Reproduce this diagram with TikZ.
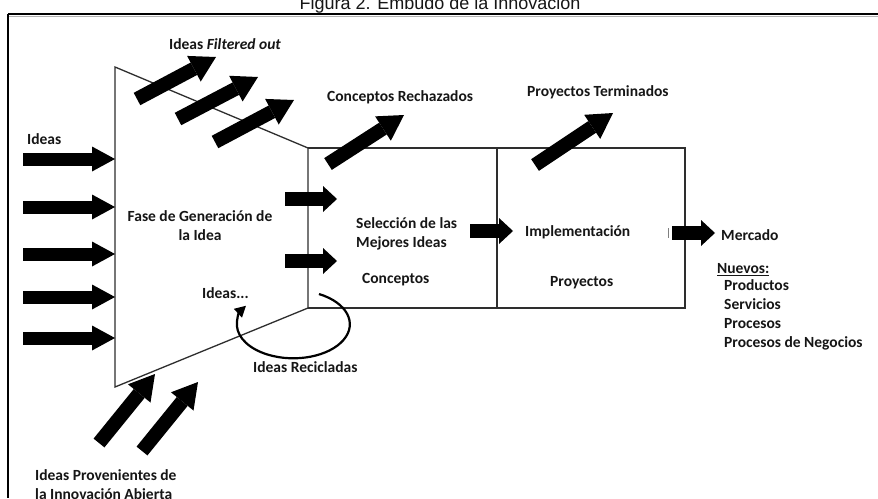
\documentclass[tikz,border=0pt]{standalone}
\usepackage{fontspec}
\setmainfont{Carlito}
\newfontfamily\titlefont{Liberation Sans}
\usetikzlibrary{arrows.meta}
\definecolor{ink}{HTML}{161616}
\definecolor{rulegray}{HTML}{2E2E2E}
\begin{document}
\begin{tikzpicture}[x=1pt,y=-1pt,
  lbl/.style={font=\bfseries\fontsize{15.5}{19}\selectfont, text=ink, inner sep=0pt, anchor=west},
  edge/.style={draw=rulegray, line width=1.3pt},
  blockarrow/.style n args={3}{draw=black, line width=#1,
    -{Triangle[width=#2, length=#3, line width=0pt]}},
  inarrow/.style={blockarrow={13pt}{25pt}{23pt}},
  stubarrow/.style={blockarrow={14pt}{26pt}{14pt}},
  slantarrow/.style={blockarrow={14pt}{29pt}{25pt}},
  looparrow/.style={draw=black, line width=2.2pt, -{Triangle[width=12pt, length=11pt, line width=0pt]}}]

\useasboundingbox (0,0) rectangle (878,498);
\clip (0,0) rectangle (878,498);
\fill[white] (0,0) rectangle (878,498);

% caption above the frame
\node[font=\titlefont\fontsize{18}{20}\selectfont, text=ink, anchor=base, inner sep=0pt]
  (title) at (440,9) {Figura 2. Embudo de la Innovación};

% outer frame (top and left rules)
\coordinate (frTL) at (8,14);
\coordinate (frTR) at (878,14);
\coordinate (frBL) at (8,498);
\draw[draw=gray!60, line width=1pt] (8,16.5) -- (878,16.5);
\draw[draw=black, line width=2.4pt] (frTL) -- (frTR);
\draw[draw=black, line width=2pt] (frTL) -- (frBL);

% funnel and stage boxes
\coordinate (fTL) at (115,67);
\coordinate (fTR) at (308,148);
\coordinate (fBR) at (308,308);
\coordinate (fBL) at (115,387);
\coordinate (bTR) at (685,148);
\coordinate (bBR) at (685,308);
\coordinate (dT) at (497,148);
\coordinate (dB) at (497,308);
\draw[edge] (fTL) -- (fTR) -- (fBR) -- (fBL) -- cycle;
\draw[edge] (fTR) -- (bTR) -- (bBR) -- (fBR);
\draw[edge] (dT) -- (dB);

% incoming ideas
\foreach \yy [count=\i] in {159,207,254,297,338} {
  \coordinate (inT\i) at (23,\yy);
  \coordinate (inH\i) at (115,\yy);
  \draw[inarrow] (inT\i) -- (inH\i);
}

% ideas filtered out of the funnel
\coordinate (foT1) at (137,99);  \coordinate (foH1) at (216,57);
\coordinate (foT2) at (178,119); \coordinate (foH2) at (258,77);
\coordinate (foT3) at (215,142); \coordinate (foH3) at (294,100);
\draw[slantarrow] (foT1) -- (foH1);
\draw[slantarrow] (foT2) -- (foH2);
\draw[slantarrow] (foT3) -- (foH3);

% rejected concepts and finished projects
\coordinate (crT) at (328,164); \coordinate (crH) at (404,115);
\coordinate (ptT) at (535,165); \coordinate (ptH) at (613,113);
\draw[slantarrow] (crT) -- (crH);
\draw[slantarrow] (ptT) -- (ptH);

% open innovation inputs
\coordinate (oiT1) at (99,443);  \coordinate (oiH1) at (155,374);
\coordinate (oiT2) at (142,451); \coordinate (oiH2) at (198,382);
\draw[slantarrow] (oiT1) -- (oiH1);
\draw[slantarrow] (oiT2) -- (oiH2);

% flow between stages
\coordinate (cT1) at (285,199); \coordinate (cH1) at (337,199);
\coordinate (cT2) at (285,261); \coordinate (cH2) at (337,261);
\coordinate (sT) at (470,231);  \coordinate (sH) at (513,231);
\coordinate (mT) at (672,233);  \coordinate (mH) at (715,233);
\draw[stubarrow] (cT1) -- (cH1);
\draw[stubarrow] (cT2) -- (cH2);
\draw[stubarrow] (sT) -- (sH);
\draw[stubarrow] (mT) -- (mH);
\draw[draw=gray, line width=0.8pt] (668.5,228) -- (668.5,238);

% recycled ideas loop
\coordinate (rcS) at (319,294);
\draw[looparrow] (rcS) arc[start angle=-63, end angle=213, x radius=56.5, y radius=34];

% labels
\node[lbl] (lFilt) at (169,44) {Ideas \textit{Filtered out}};
\node[lbl] (lRech) at (327,97) {Conceptos Rechazados};
\node[lbl] (lTerm) at (527,92) {Proyectos Terminados};
\node[lbl] (lIdeas) at (27,139) {Ideas};
\node[lbl, anchor=center, align=center] (lFase) at (200,226) {Fase de Generación de\\la Idea};
\node[lbl] (lIdeasDots) at (202,293) {Ideas...};
\node[lbl, align=left] (lSel) at (356,234) {Selección de las\\Mejores Ideas};
\node[lbl] (lConc) at (362,280) {Conceptos};
\node[lbl] (lImpl) at (525,232) {Implementación};
\node[lbl] (lProy) at (550,283) {Proyectos};
\node[lbl] (lMerc) at (721,235) {Mercado};
\node[lbl] (lNuevos) at (717,270) {\underline{Nuevos:}};
\node[lbl, align=left, anchor=north west] (lList) at (724,279)
  {Productos\\Servicios\\Procesos\\Procesos de Negocios};
\node[lbl] (lRecic) at (253,367) {Ideas Recicladas};
\node[lbl, align=left, anchor=north west] (lAbierta) at (35,469)
  {Ideas Provenientes de\\la Innovación Abierta};
\end{tikzpicture}
\end{document}
